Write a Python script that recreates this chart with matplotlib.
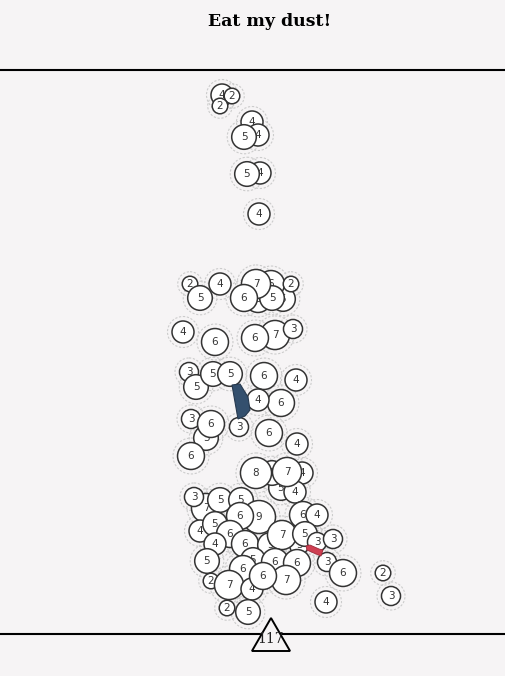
import numpy as np
import matplotlib.pyplot as plt
from matplotlib.patches import Circle, Polygon, RegularPolygon

# bubble data: centre (pixel coordinates) and count
bub_x = [222, 232, 220, 252, 258, 244, 260, 247, 259,
         190, 200, 220, 283, 271, 258, 272, 256, 244, 291,
         183, 215, 275, 255, 293,
         189, 196, 213, 230, 264, 296, 281, 258,
         191, 206, 211, 239, 269, 297, 191,
         302, 281, 295, 272, 256, 287,
         206, 194, 220, 241, 259, 240, 200, 215, 303, 317,
         230, 215, 245, 299, 270, 282, 305, 317, 333,
         207, 253, 275, 297, 243, 327, 343, 211,
         286, 229, 252, 263, 326, 227, 248, 383, 391]
bub_y = [95, 96, 106, 122, 135, 137, 173, 174, 214,
         284, 298, 284, 299, 284, 299, 298, 284, 298, 284,
         332, 342, 335, 338, 329,
         372, 387, 374, 374, 376, 380, 403, 400,
         419, 438, 424, 427, 433, 444, 456,
         473, 488, 492, 473, 473, 472,
         508, 497, 500, 500, 517, 516, 531, 524, 515, 515,
         534, 544, 544, 545, 545, 535, 534, 542, 539,
         561, 560, 562, 563, 569, 562, 573, 581,
         580, 585, 589, 576, 602, 608, 612, 573, 596]
bub_val = [4, 2, 2, 4, 4, 5, 4, 5, 4,
           2, 5, 4, 5, 6, 6, 5, 7, 6, 2,
           4, 6, 7, 6, 3,
           3, 5, 5, 5, 6, 4, 6, 4,
           3, 5, 6, 3, 6, 4, 6,
           4, 5, 4, 5, 8, 7,
           7, 3, 5, 5, 9, 6, 4, 5, 6, 4,
           6, 4, 6, 3, 5, 7, 5, 3, 3,
           5, 5, 6, 6, 6, 3, 6, 2,
           7, 7, 4, 6, 4, 2, 5, 2, 3]

blue_x = [232, 240, 248, 250, 245, 238]
blue_y = [385, 384, 397, 410, 416, 419]
red_x = [306, 310, 319, 323, 321, 316, 307]
red_y = [546, 545, 549, 550, 556, 554, 550]

total = 117
total_x, total_y = 271, 640

bg = "#f6f4f5"
fig = plt.figure(figsize=(5.05, 6.76), dpi=100, facecolor=bg)
ax = fig.add_axes([0, 0, 1, 1])
ax.set_xlim(0, 505)
ax.set_ylim(676, 0)
ax.set_aspect("equal")
ax.axis("off")
ax.set_facecolor(bg)

ax.axhline(70, color="black", lw=1.5, zorder=1)
ax.axhline(634, color="black", lw=1.5, zorder=1)

# dotted halos first, then the bubbles, then the link shapes
for x, y, v in zip(bub_x, bub_y, bub_val):
    r = 5.5 * np.sqrt(v)
    ax.add_patch(Circle((x, y), r + 4.5, facecolor="none", edgecolor="#cccccc",
                        lw=0.8, linestyle=(0, (2, 1.5)), zorder=2))

for i, (x, y, v) in enumerate(zip(bub_x, bub_y, bub_val)):
    r = 5.5 * np.sqrt(v)
    z = 3 + i * 0.01
    ax.add_patch(Circle((x, y), r, facecolor="white", edgecolor="#333333",
                        lw=1.1, zorder=z))
    ax.text(x, y, str(v), ha="center", va="center", fontsize=7.5,
            color="#333333", zorder=z + 0.001)

ax.add_patch(Polygon(list(zip(blue_x, blue_y)), closed=True,
                     facecolor="#34506e", edgecolor="#26394f", lw=0.8, zorder=4.5))
ax.add_patch(Polygon(list(zip(red_x, red_y)), closed=True,
                     facecolor="#cf3f52", edgecolor="#9e2a3a", lw=0.6, zorder=4.5))

ax.add_patch(RegularPolygon((total_x, total_y), 3, radius=22, orientation=np.pi,
                            facecolor=bg, edgecolor="black", lw=1.4, zorder=5))
ax.text(total_x, total_y - 1, str(total), ha="center", va="center",
        fontsize=10, family="DejaVu Serif", color="#222222", zorder=6)

ax.text(270, 21, "Eat my dust!", ha="center", va="center", fontsize=12.5,
        fontweight="bold", family="DejaVu Serif", color="black")

fig.savefig("out.png", dpi=100, facecolor=bg)
